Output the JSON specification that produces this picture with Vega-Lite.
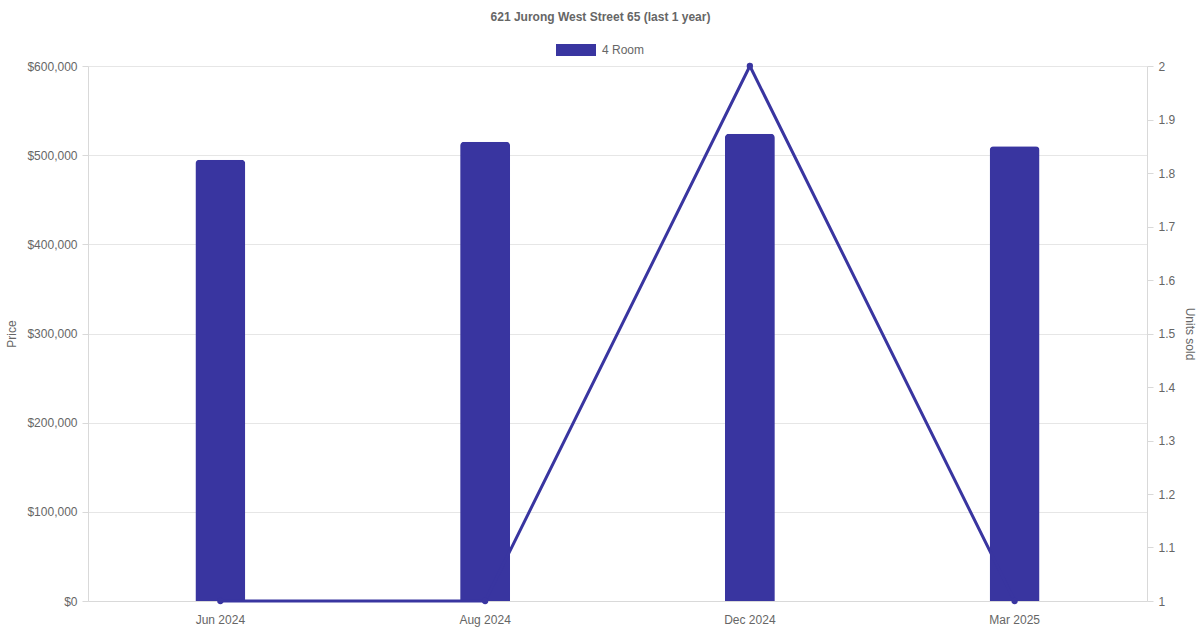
{
  "$schema": "https://vega.github.io/schema/vega-lite/v6.json",
  "width": 1059,
  "height": 535,
  "autosize": {"type": "none"},
  "padding": {"left": 88, "top": 66, "right": 53, "bottom": 29},
  "background": "white",
  "title": {
    "text": "621 Jurong West Street 65 (last 1 year)",
    "font": "Liberation Sans",
    "fontSize": 12,
    "fontWeight": "bold",
    "color": "#666666",
    "anchor": "middle",
    "dx": -17,
    "offset": 6
  },
  "config": {
    "view": {"stroke": null},
    "font": "Liberation Sans",
    "axis": {
      "labelFont": "Liberation Sans",
      "labelFontSize": 12,
      "labelColor": "#666666",
      "titleFont": "Liberation Sans",
      "titleFontSize": 12,
      "titleFontWeight": "normal",
      "titleColor": "#666666",
      "domainColor": "#d9d9d9",
      "tickColor": "#d9d9d9",
      "gridColor": "#e6e6e6"
    }
  },
  "data": {
    "values": [
      {"month": "Jun 2024", "price": 495000, "units": 1, "type": "4 Room"},
      {"month": "Aug 2024", "price": 515000, "units": 1, "type": "4 Room"},
      {"month": "Dec 2024", "price": 524000, "units": 2, "type": "4 Room"},
      {"month": "Mar 2025", "price": 510000, "units": 1, "type": "4 Room"}
    ]
  },
  "encoding": {
    "x": {
      "field": "month",
      "type": "nominal",
      "sort": null,
      "scale": {"paddingInner": 0, "paddingOuter": 0},
      "axis": {
        "title": null,
        "labelAngle": 0,
        "ticks": false,
        "labelPadding": 13,
        "grid": false,
        "domainColor": "#d9d9d9"
      }
    }
  },
  "layer": [
    {
      "mark": {"type": "bar", "size": 50, "cornerRadiusTopLeft": 4, "cornerRadiusTopRight": 4},
      "encoding": {
        "y": {
          "field": "price",
          "type": "quantitative",
          "scale": {"domain": [0, 600000], "nice": false},
          "axis": {
            "title": "Price",
            "format": "$,.0f",
            "values": [0, 100000, 200000, 300000, 400000, 500000, 600000],
            "tickSize": 6,
            "labelPadding": 5,
            "titlePadding": 8,
            "grid": true
          }
        },
        "color": {
          "field": "type",
          "type": "nominal",
          "scale": {"range": ["#3935a0"]},
          "legend": {
            "title": null,
            "orient": "none",
            "legendX": 468,
            "legendY": -36,
            "padding": 0,
            "symbolType": "M-1,-0.3H1V0.3H-1Z",
            "symbolSize": 1600,
            "symbolStrokeWidth": 0,
            "labelFont": "Liberation Sans",
            "labelFontSize": 12,
            "labelColor": "#666666",
            "labelOffset": 6
          }
        }
      }
    },
    {
      "mark": {
        "type": "line",
        "color": "#3935a0",
        "strokeWidth": 3,
        "point": {"filled": true, "size": 40, "color": "#3935a0"}
      },
      "encoding": {
        "y": {
          "field": "units",
          "type": "quantitative",
          "scale": {"domain": [1, 2], "nice": false, "zero": false},
          "axis": {
            "title": "Units sold",
            "orient": "right",
            "format": "~g",
            "values": [1, 1.1, 1.2, 1.3, 1.4, 1.5, 1.6, 1.7, 1.8, 1.9, 2],
            "tickSize": 6,
            "labelPadding": 5,
            "titlePadding": 8,
            "grid": false
          }
        }
      }
    }
  ],
  "resolve": {"scale": {"y": "independent"}}
}
